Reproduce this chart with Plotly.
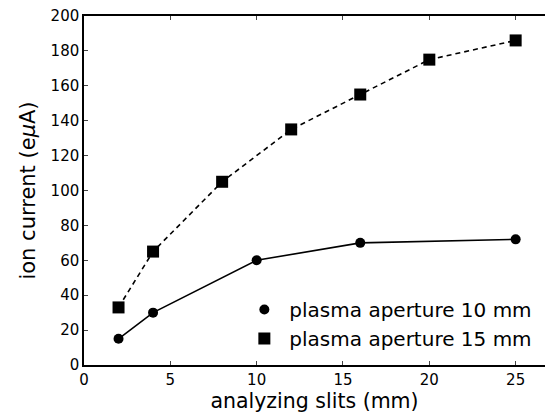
import plotly.graph_objects as go

x10 = [2, 4, 10, 16, 25]
y10 = [15, 30, 60, 70, 72]
x15 = [2, 4, 8, 12, 16, 20, 25]
y15 = [33, 65, 105, 135, 155, 175, 186]
name10 = "plasma aperture 10 mm"
name15 = "plasma aperture 15 mm"
xticks = [0, 5, 10, 15, 20, 25]
yticks = [0, 20, 40, 60, 80, 100, 120, 140, 160, 180, 200]

FONT = "DejaVu Sans"
fig = go.Figure()
fig.add_trace(go.Scatter(x=x10, y=y10, mode="lines+markers", showlegend=False,
                         line=dict(color="black", width=1.6),
                         marker=dict(symbol="circle", size=10, color="black")))
fig.add_trace(go.Scatter(x=x15, y=y15, mode="lines+markers", showlegend=False,
                         line=dict(color="black", width=1.6, dash="5px,4px"),
                         marker=dict(symbol="square", size=12, color="black")))
fig.add_trace(go.Scatter(x=[None], y=[None], mode="markers", name=name10,
                         marker=dict(symbol="circle", size=10, color="black")))
fig.add_trace(go.Scatter(x=[None], y=[None], mode="markers", name=name15,
                         marker=dict(symbol="square", size=12, color="black")))

fig.update_layout(
    width=545, height=418,
    margin=dict(l=84, r=0, t=16, b=53),
    paper_bgcolor="white", plot_bgcolor="white",
    font=dict(family=FONT, color="black", size=15),
    legend=dict(x=0.337, y=0.02, xanchor="left", yanchor="bottom",
                bgcolor="rgba(0,0,0,0)", font=dict(size=20),
                tracegroupgap=0, itemwidth=40),
    xaxis=dict(range=[0, 26.7], tickvals=xticks, ticks="inside", ticklen=4,
               showgrid=False, zeroline=False, showline=True, linecolor="black",
               linewidth=1.5, mirror="ticks",
               title=dict(text="analyzing slits (mm)", font=dict(size=20.5), standoff=4)),
    yaxis=dict(range=[0, 200], tickvals=yticks, ticks="inside", ticklen=4,
               showgrid=False, zeroline=False, showline=True, linecolor="black",
               linewidth=1.5,
               title=dict(text="ion current (e<i>μ</i>A)", font=dict(size=21), standoff=9)),
)
fig.write_html("out.html")
